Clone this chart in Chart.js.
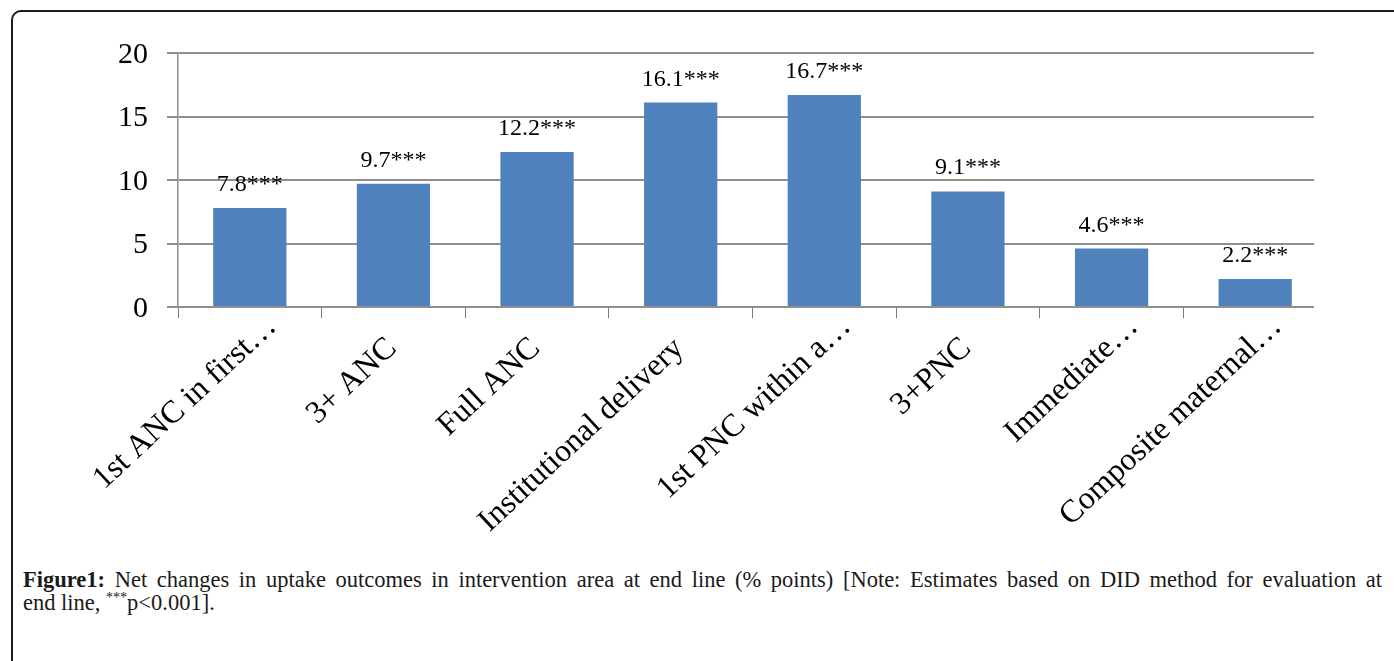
<!DOCTYPE html>
<html>
<head>
<meta charset="utf-8">
<script src="https://cdn.jsdelivr.net/npm/chart.js@4.4.1/dist/chart.umd.min.js"></script>
<style>
  html, body { margin: 0; padding: 0; background: #fff; width: 1394px; height: 661px; overflow: hidden; }
  #frame { position: absolute; left: 11px; top: 10px; width: 1430px; height: 720px; border: 2px solid #1b1b1b; border-radius: 10px; box-sizing: border-box; }
  #clip { position: absolute; left: 0; top: 0; width: 1314px; height: 560px; overflow: hidden; }
  #chart { position: absolute; left: 0; top: 0; }
  #caption { position: absolute; left: 23px; top: 568px; font-family: "Liberation Serif", serif; font-size: 22.5px; line-height: 23px; color: #1a1a1a; }
  #caption .l1 { width: 1359px; text-align: justify; text-align-last: justify; white-space: nowrap; }
  #caption b { font-weight: bold; }
</style>
</head>
<body>
<div id="frame"></div>
<div id="clip"><canvas id="chart" width="1394" height="560"></canvas></div>
<div id="caption">
  <div class="l1"><b>Figure1:</b> Net changes in uptake outcomes in intervention area at end line (% points) [Note: Estimates based on DID method for evaluation at</div>
  <div class="l2">end line, <sup style="font-size:14px;line-height:0">***</sup>p&lt;0.001].</div>
</div>
<script>
const categories = ["1st ANC in first…", "3+ ANC", "Full ANC", "Institutional delivery", "1st PNC within a…", "3+PNC", "Immediate…", "Composite maternal…"];
const netChange = [7.8, 9.7, 12.2, 16.1, 16.7, 9.1, 4.6, 2.2];
const significance = ["***", "***", "***", "***", "***", "***", "***", "***"];
const yTickValues = [0, 5, 10, 15, 20];

const CANVAS_H = 560;
const AREA_LEFT = 178, AREA_TOP = 53, AREA_RIGHT = 1327, AREA_BOTTOM = 307;
const GRID = '#8f8f8f';

const valueLabels = {
  id: 'valueLabels',
  afterDatasetsDraw(chart) {
    const ctx = chart.ctx;
    const meta = chart.getDatasetMeta(0);
    ctx.save();
    ctx.font = '24px "Liberation Serif"';
    ctx.fillStyle = '#000';
    ctx.textAlign = 'center';
    ctx.textBaseline = 'alphabetic';
    meta.data.forEach((bar, i) => {
      ctx.fillText(netChange[i].toFixed(1) + significance[i], bar.x, bar.y - 17);
    });
    ctx.restore();
  }
};

new Chart(document.getElementById('chart'), {
  type: 'bar',
  data: {
    labels: categories,
    datasets: [{
      data: netChange,
      backgroundColor: '#4f81bd',
      borderWidth: 0,
      categoryPercentage: 1.0,
      barPercentage: 0.51
    }]
  },
  options: {
    responsive: false,
    animation: false,
    events: [],
    layout: { padding: { left: 0, top: AREA_TOP, right: 1394 - AREA_RIGHT, bottom: 0 } },
    plugins: { legend: { display: false }, tooltip: { enabled: false }, title: { display: false } },
    scales: {
      x: {
        offset: true,
        grid: { display: true, drawOnChartArea: false, drawTicks: true, tickLength: 11, color: '#7a7a7a', lineWidth: 1, offset: true },
        border: { display: true, color: GRID, width: 2 },
        ticks: {
          autoSkip: false,
          minRotation: 43,
          maxRotation: 43,
          labelOffset: 22,
          padding: -10,
          color: '#000',
          font: { family: '"Liberation Serif"', size: 32, lineHeight: 1.2 },
          callback: function (value, index) {
            const label = categories[index];
            return label.endsWith('…') ? label : label + '    ';
          }
        },
        afterFit: function (scale) { scale.height = CANVAS_H - AREA_BOTTOM; }
      },
      y: {
        min: 0,
        max: 20,
        afterBuildTicks: function (scale) { scale.ticks = yTickValues.map(v => ({ value: v })); },
        grid: { color: GRID, lineWidth: 2, drawTicks: true, tickLength: 11 },
        border: { display: true, color: GRID, width: 1.5 },
        ticks: {
          padding: 19,
          labelOffset: 2,
          color: '#000',
          font: { family: '"Liberation Serif"', size: 30 },
          callback: function (v) { return String(v); }
        },
        afterFit: function (scale) { scale.width = AREA_LEFT; }
      }
    }
  },
  plugins: [valueLabels]
});
</script>
</body>
</html>
